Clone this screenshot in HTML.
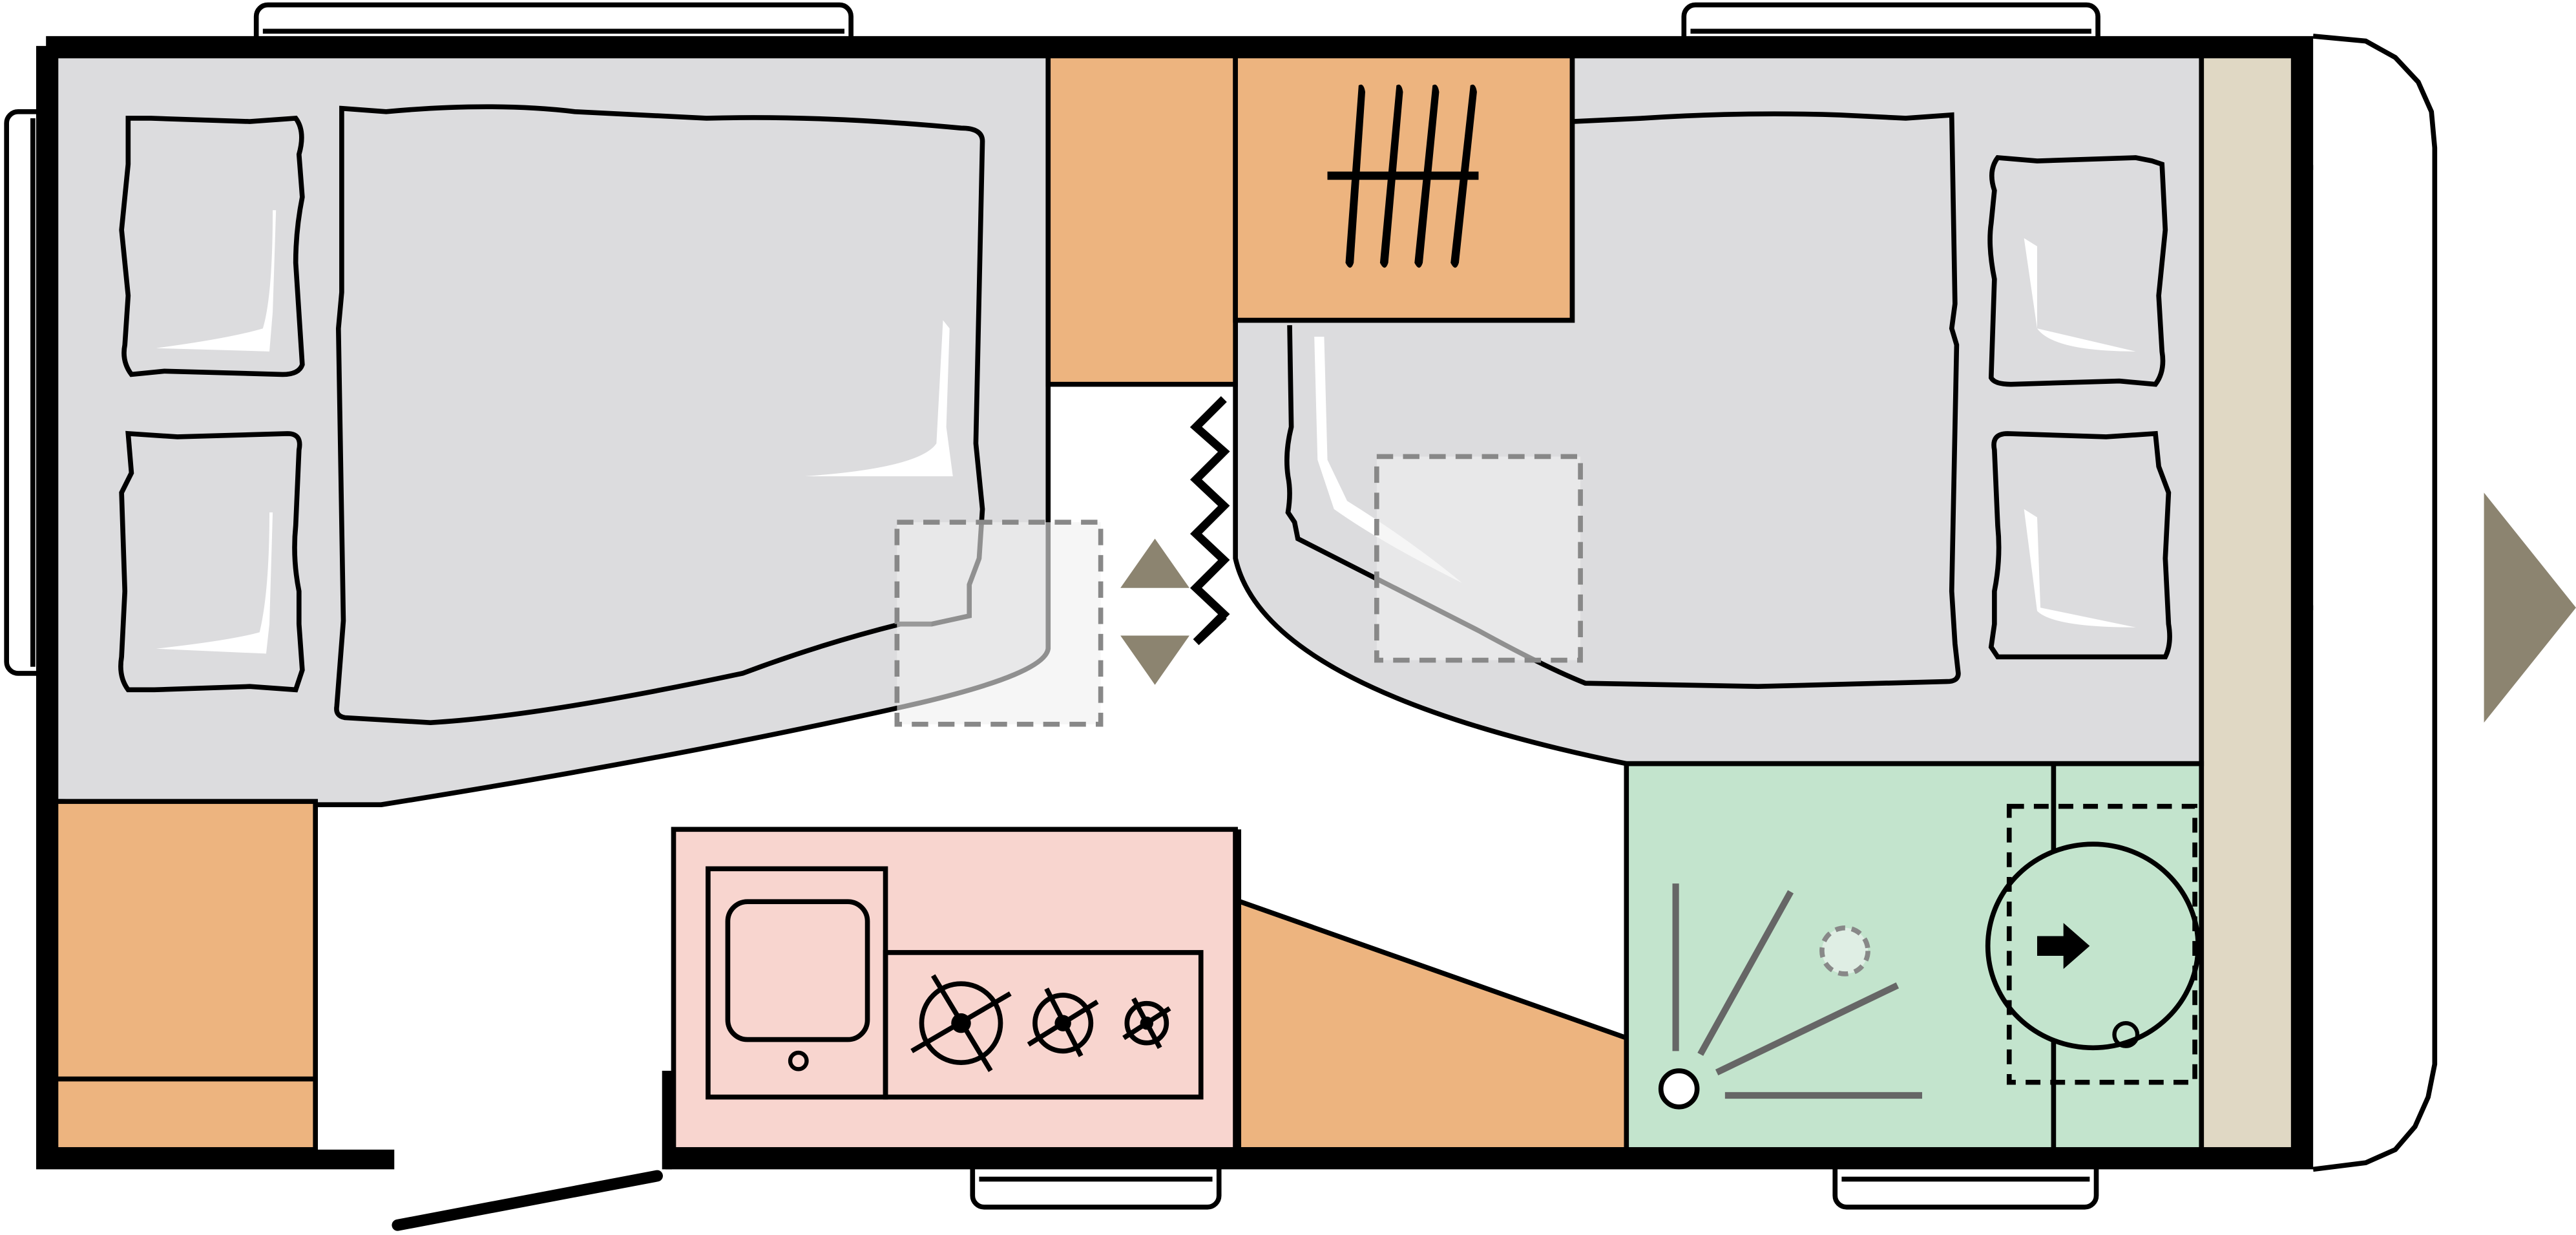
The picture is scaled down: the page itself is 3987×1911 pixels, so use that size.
<!DOCTYPE html>
<html><head><meta charset="utf-8"><style>
html,body{margin:0;padding:0;background:#fff;}
svg{display:block;}
</style></head><body>
<svg width="3987" height="1911" viewBox="0 0 1568 752" preserveAspectRatio="none" xmlns="http://www.w3.org/2000/svg">
<g fill="#fff" stroke="#000" stroke-width="3">
<rect x="156" y="3" width="362" height="26" rx="7"/>
<line x1="160" y1="19" x2="514" y2="19"/>
<rect x="1025" y="3" width="252" height="26" rx="7"/>
<line x1="1029" y1="19" x2="1273" y2="19"/>
<rect x="4" y="68" width="28" height="342" rx="7"/>
<line x1="20" y1="72" x2="20" y2="406"/>
<rect x="1398" y="102" width="30" height="268" rx="7"/>
<line x1="1410" y1="106" x2="1410" y2="366"/>
<rect x="592" y="700" width="150" height="35" rx="7"/>
<line x1="596" y1="718" x2="738" y2="718"/>
<rect x="1117" y="700" width="159" height="35" rx="7"/>
<line x1="1121" y1="718" x2="1272" y2="718"/>
</g>
<path d="M1408 22 L1440 25 L1458 35 L1472 50 L1480 68 L1482 90 L1482 648 L1478 668 L1470 686 L1458 700 L1440 708 L1408 712" fill="#fff" stroke="#000" stroke-width="3"/>
<polygon points="1512,300 1568,370 1512,440" fill="#8c8470"/>
<rect x="34" y="34" width="1362" height="666" fill="#fff"/>
<rect x="1340" y="34" width="56" height="666" fill="#e0d8c4" stroke="#000" stroke-width="3"/>
<path d="M34 34 L638 34 L638 395 Q636 410 560 428 Q420 460 232 490 L192 490 L34 488 Z" fill="#dcdcde" stroke="#000" stroke-width="3"/>
<path d="M957 34 L1340 34 L1340 465 L990 465 Q770 420 752 340 L752 195 L957 195 Z" fill="#dcdcde" stroke="#000" stroke-width="3"/>
<rect x="638" y="34" width="114" height="200" fill="#edb47f" stroke="#000" stroke-width="3"/>
<rect x="752" y="34" width="205" height="161" fill="#edb47f" stroke="#000" stroke-width="3"/>
<rect x="34" y="488" width="158" height="212" fill="#edb47f" stroke="#000" stroke-width="3"/>
<line x1="34" y1="657" x2="192" y2="657" stroke="#000" stroke-width="3"/>
<polygon points="752,548 990,632 990,700 752,700" fill="#edb47f" stroke="#000" stroke-width="3"/>
<rect x="990" y="465" width="350" height="235" fill="#c3e4cd" stroke="#000" stroke-width="3"/>
<line x1="1250" y1="465" x2="1250" y2="700" stroke="#000" stroke-width="3"/>
<ellipse cx="1274" cy="576" rx="64" ry="62" fill="#c3e4cd" stroke="#000" stroke-width="3"/>
<rect x="1223" y="491" width="113" height="168" fill="none" stroke="#000" stroke-width="3" stroke-dasharray="9,6"/>
<path d="M1240 570 L1256 570 L1256 562 L1272 576 L1256 590 L1256 582 L1240 582 Z" fill="#000"/>
<circle cx="1294" cy="630" r="7" fill="none" stroke="#000" stroke-width="2.5"/>
<g stroke="#666" stroke-width="4">
<line x1="1020" y1="538" x2="1020" y2="640"/>
<line x1="1035" y1="642" x2="1090" y2="543"/>
<line x1="1045" y1="653" x2="1155" y2="600"/>
<line x1="1050" y1="667" x2="1170" y2="667"/>
</g>
<circle cx="1022" cy="663" r="11" fill="#fff" stroke="#000" stroke-width="3"/>
<circle cx="1123" cy="579" r="14" fill="#dfeee4" stroke="#888" stroke-width="3" stroke-dasharray="6,4"/>
<rect x="410" y="505" width="342" height="195" fill="#f8d5cf" stroke="#000" stroke-width="3"/>
<rect x="431" y="529" width="108" height="139" fill="none" stroke="#000" stroke-width="3"/>
<rect x="539" y="580" width="192" height="88" fill="none" stroke="#000" stroke-width="3"/>
<rect x="443" y="549" width="85" height="84" rx="12" fill="none" stroke="#000" stroke-width="3"/>
<circle cx="486" cy="646" r="5" fill="none" stroke="#000" stroke-width="2.5"/>
<g fill="none" stroke="#000" stroke-width="3">
<circle cx="585" cy="623" r="24"/><line x1="555" y1="640" x2="615" y2="605"/><line x1="568" y1="594" x2="603" y2="652"/>
<circle cx="647" cy="623" r="17"/><line x1="626" y1="636" x2="668" y2="610"/><line x1="637" y1="602" x2="658" y2="643"/>
<circle cx="698" cy="623" r="12"/><line x1="684" y1="632" x2="712" y2="614"/><line x1="690" y1="608" x2="706" y2="638"/>
</g>
<circle cx="585" cy="623" r="6" fill="#000"/><circle cx="647" cy="623" r="5" fill="#000"/><circle cx="698" cy="623" r="4" fill="#000"/>
<line x1="753" y1="505" x2="753" y2="700" stroke="#000" stroke-width="5"/>
<g fill="none" stroke="#000" stroke-width="3">
<path d="M208 66 L235 68 Q300 62 350 68 L430 72 Q500 70 585 78 Q598 78 598 86 L594 270 L598 310 L596 340 L590 356 L590 375 L567 380 L548 380 Q500 392 452 410 Q330 436 262 440 L210 437 Q204 436 205 430 L209 378 L206 200 L208 178 Z"/>
<path d="M78 72 L92 72 L152 74 L180 72 Q186 80 182 94 L184 120 Q180 140 180 160 L184 222 Q182 228 172 228 L100 226 L80 228 Q74 220 76 210 L78 180 L74 140 L78 100 Z"/>
<path d="M78 264 L108 266 L175 264 Q184 264 182 274 L180 320 Q178 340 182 360 L182 380 L184 408 L180 420 L152 418 L94 420 L78 420 Q72 412 74 400 L76 360 L74 300 L80 288 Z"/>
<path d="M1310 98 L1300 96 L1240 98 L1216 96 Q1210 104 1214 116 L1212 136 Q1210 150 1214 170 L1212 230 Q1214 234 1224 234 L1290 232 L1312 234 Q1318 226 1316 214 L1314 180 L1318 140 L1316 100 Z"/>
<path d="M1312 264 L1282 266 L1222 264 Q1212 264 1214 274 L1216 320 Q1218 340 1214 360 L1214 380 L1212 394 L1216 400 L1244 400 L1300 400 L1318 400 Q1322 392 1320 380 L1318 340 L1320 300 L1314 284 Z"/>
<path d="M957 74 L1000 72 Q1060 68 1120 70 L1160 72 L1188 70 L1190 185 L1188 200 L1191 210 L1188 360 L1190 392 L1192 410 Q1192 415 1185 415 L1070 418 L965 416 Q940 406 900 384 L790 328 L788 318 L784 312 Q786 300 784 290 Q782 276 786 260 L785 198"/>
</g>
<g fill="#fff">
<path d="M95 212 Q140 206 160 200 Q166 180 166 128 L168 128 L166 190 L164 214 Z"/>
<path d="M95 395 Q140 390 158 385 Q164 360 164 312 L166 312 L164 380 L162 398 Z"/>
<path d="M490 290 Q560 285 570 270 L574 195 L578 200 L576 260 L580 290 Z"/>
<path d="M1300 214 Q1250 214 1240 200 L1232 145 L1240 150 L1240 200 Z"/>
<path d="M1300 382 Q1250 382 1240 372 L1232 310 L1240 315 L1242 370 Z"/>
<path d="M800 205 L806 205 L808 280 L820 305 Q860 330 890 355 Q840 330 812 310 L802 280 Z"/>
</g>
<rect x="546" y="318" width="124" height="123" fill="rgba(240,240,240,0.6)" stroke="#888" stroke-width="3" stroke-dasharray="10,6"/>
<rect x="838" y="278" width="124" height="124" fill="rgba(240,240,240,0.6)" stroke="#888" stroke-width="3" stroke-dasharray="10,6"/>
<path d="M546 380 L567 380" stroke="#999" stroke-width="3"/>
<polygon points="703,328 724,358 682,358" fill="#8c8470"/>
<polygon points="682,387 724,387 703,417" fill="#8c8470"/>
<path d="M745 243 L728 260 L745 275 L728 292 L745 308 L728 325 L745 341 L728 358 L745 374 L728 391 L745 375" fill="none" stroke="#000" stroke-width="5"/>
<g fill="#000">
<path d="M827 52 Q830 50 831 56 L824 160 Q822 166 819 160 Z"/>
<path d="M850 52 Q853 50 854 56 L845 160 Q843 166 840 160 Z"/>
<path d="M872 52 Q875 50 876 56 L866 160 Q864 166 861 160 Z"/>
<path d="M895 52 Q898 50 899 56 L888 160 Q886 166 883 160 Z"/>
</g>
<line x1="808" y1="107" x2="900" y2="107" stroke="#000" stroke-width="5"/>
<path d="M28 28 L1402 28 L1402 706 L405 706 M240 706 L28 706 L28 28" fill="none" stroke="#000" stroke-width="12"/>
<line x1="406" y1="652" x2="406" y2="712" stroke="#000" stroke-width="6"/>
<line x1="242" y1="746" x2="400" y2="716" stroke="#000" stroke-width="7" stroke-linecap="round"/>
</svg>
</body></html>
